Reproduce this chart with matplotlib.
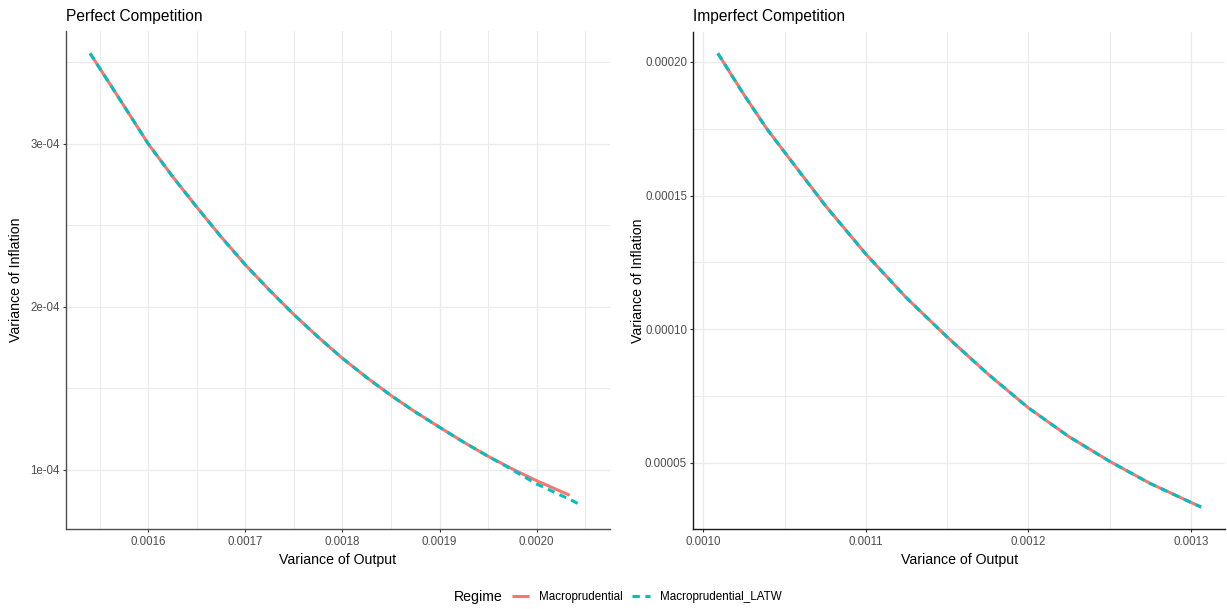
import matplotlib
matplotlib.use("Agg")
import matplotlib.pyplot as plt
from matplotlib.lines import Line2D
from matplotlib.ticker import FixedLocator

plt.rcParams['font.family'] = ['Liberation Sans', 'DejaVu Sans']

# Perfect competition frontier: variance of output vs variance of inflation
pc_out_macro = [0.001540, 0.001571, 0.001600, 0.001625, 0.001650, 0.001675, 0.001700,
                0.001725, 0.001750, 0.001775, 0.001800, 0.001825, 0.001850, 0.001875,
                0.001900, 0.001925, 0.001950, 0.001975, 0.002000, 0.002034]
pc_inf_macro = [3.556e-4, 3.270e-4, 3.000e-4, 2.800e-4, 2.612e-4, 2.430e-4, 2.258e-4,
                2.102e-4, 1.953e-4, 1.815e-4, 1.685e-4, 1.567e-4, 1.457e-4, 1.356e-4,
                1.262e-4, 1.170e-4, 1.084e-4, 1.006e-4, 0.934e-4, 0.845e-4]
pc_out_latw = [0.001540, 0.001571, 0.001600, 0.001625, 0.001650, 0.001675, 0.001700,
               0.001725, 0.001750, 0.001775, 0.001800, 0.001825, 0.001850, 0.001875,
               0.001900, 0.001925, 0.001950, 0.001970, 0.002000, 0.002034, 0.002047]
pc_inf_latw = [3.556e-4, 3.270e-4, 3.000e-4, 2.800e-4, 2.612e-4, 2.430e-4, 2.258e-4,
               2.102e-4, 1.953e-4, 1.815e-4, 1.685e-4, 1.567e-4, 1.457e-4, 1.356e-4,
               1.262e-4, 1.170e-4, 1.084e-4, 1.018e-4, 0.914e-4, 0.820e-4, 0.781e-4]

# Imperfect competition frontier
ic_out_macro = [0.0010089, 0.0010250, 0.0010390, 0.0010500, 0.0010750, 0.0011000,
                0.0011250, 0.0011500, 0.0011750, 0.0012000, 0.0012250, 0.0012500,
                0.0012750, 0.0013062]
ic_inf_macro = [2.032e-4, 1.877e-4, 1.750e-4, 1.662e-4, 1.463e-4, 1.281e-4,
                1.117e-4, 0.971e-4, 0.833e-4, 0.706e-4, 0.598e-4, 0.506e-4,
                0.423e-4, 0.335e-4]
ic_out_latw = list(ic_out_macro)
ic_inf_latw = list(ic_inf_macro)

regimes = ["Macroprudential", "Macroprudential_LATW"]
colors = ["#F8766D", "#00BFC4"]

W, H = 1227, 609
fig = plt.figure(figsize=(W / 100, H / 100), dpi=100)


def box(x0, x1, y0, y1):
    return [x0 / W, 1 - y1 / H, (x1 - x0) / W, (y1 - y0) / H]


def style(ax, spine_color):
    ax.set_facecolor("white")
    for s in ["top", "right"]:
        ax.spines[s].set_visible(False)
    for s in ["left", "bottom"]:
        ax.spines[s].set_color(spine_color)
        ax.spines[s].set_linewidth(1.0)
    ax.grid(which="major", color="#EBEBEB", linewidth=0.9)
    ax.grid(which="minor", color="#EBEBEB", linewidth=0.7)
    ax.set_axisbelow(True)
    ax.tick_params(which="major", length=2.5, width=0.8, color="#333333",
                   labelsize=8.3, labelcolor="#4D4D4D", pad=2)
    ax.tick_params(which="minor", length=0)


lw = 2.2
dash = (2.4, 1.8)

# Left panel: x 66..610 px, y 31..529 px
ax1 = fig.add_axes(box(66, 610, 31, 529.3))
ax1.plot(pc_out_macro, pc_inf_macro, color=colors[0], lw=lw,
         solid_capstyle="butt", solid_joinstyle="round", zorder=3)
ax1.plot(pc_out_latw, pc_inf_latw, color=colors[1], lw=lw, dashes=dash,
         dash_joinstyle="round", zorder=4)
ax1.set_xlim(0.0015152, 0.0020756)
ax1.set_ylim(0.636e-4, 3.693e-4)
ax1.set_xticks([0.0016, 0.0017, 0.0018, 0.0019, 0.0020])
ax1.set_xticklabels(["0.0016", "0.0017", "0.0018", "0.0019", "0.0020"])
ax1.xaxis.set_minor_locator(FixedLocator([0.00155, 0.00165, 0.00175, 0.00185, 0.00195, 0.00205]))
ax1.set_yticks([1e-4, 2e-4, 3e-4])
ax1.set_yticklabels(["1e-04", "2e-04", "3e-04"])
ax1.yaxis.set_minor_locator(FixedLocator([1.5e-4, 2.5e-4, 3.5e-4]))
style(ax1, "#4D4D4D")
ax1.set_xlabel("Variance of Output", fontsize=10.2)
ax1.set_ylabel("Variance of Inflation", fontsize=10.2)
ax1.xaxis.set_label_coords(0.5, -(553 - 529.3) / 498.3)
ax1.yaxis.set_label_coords(-(66 - 23.5) / 544, 0.5)

# Right panel: x 693..1225 px, y 32..529 px
ax2 = fig.add_axes(box(693.3, 1225, 31.7, 529.3))
ax2.plot(ic_out_macro, ic_inf_macro, color=colors[0], lw=lw,
         solid_capstyle="butt", solid_joinstyle="round", zorder=3)
ax2.plot(ic_out_latw, ic_inf_latw, color=colors[1], lw=lw, dashes=dash,
         dash_joinstyle="round", zorder=4)
ax2.set_xlim(0.0009938, 0.0013209)
ax2.set_ylim(0.0000252, 0.0002113)
ax2.set_xticks([0.0010, 0.0011, 0.0012, 0.0013])
ax2.set_xticklabels(["0.0010", "0.0011", "0.0012", "0.0013"])
ax2.xaxis.set_minor_locator(FixedLocator([0.00105, 0.00115, 0.00125]))
ax2.set_yticks([0.00005, 0.00010, 0.00015, 0.00020])
ax2.set_yticklabels(["0.00005", "0.00010", "0.00015", "0.00020"])
ax2.yaxis.set_minor_locator(FixedLocator([0.000075, 0.000125, 0.000175]))
style(ax2, "#1A1A1A")
ax2.set_xlabel("Variance of Output", fontsize=10.2)
ax2.set_ylabel("Variance of Inflation", fontsize=10.2)
ax2.xaxis.set_label_coords(0.5, -(553 - 529.3) / 497.6)
ax2.yaxis.set_label_coords(-(693.3 - 645) / 531.7, 0.5)

# Panel titles
fig.text(66 / W, 1 - 16 / H, "Perfect Competition", fontsize=11.2, ha="left", va="center")
fig.text(693.3 / W, 1 - 16 / H, "Imperfect Competition", fontsize=11.2, ha="left", va="center")

# Legend along the bottom
fig.text(454 / W, 1 - 597 / H, "Regime", fontsize=10.2, ha="left", va="center")
handles = [
    Line2D([], [], color=colors[0], lw=lw, solid_capstyle="butt"),
    Line2D([], [], color=colors[1], lw=lw, dashes=dash),
]
fig.legend(handles, regimes, loc="center left", bbox_to_anchor=(511.7 / W, 1 - 597 / H),
           ncol=2, frameon=False, fontsize=8.4, handlelength=1.5, handletextpad=0.85,
           columnspacing=0.8, borderpad=0, borderaxespad=0)

fig.savefig("out.png", dpi=100, facecolor="white")
